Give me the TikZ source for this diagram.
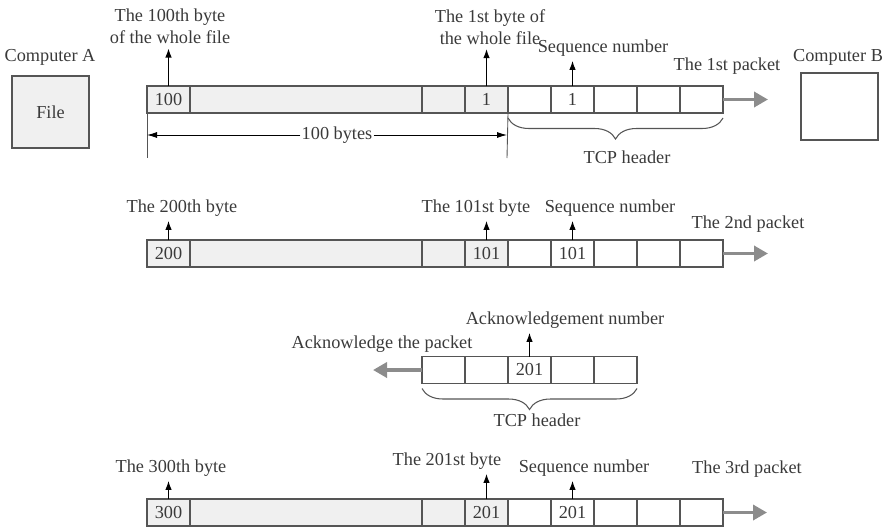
\documentclass[tikz,border=0pt]{standalone}
\usepackage{fontspec}
\setmainfont{Liberation Serif}
\usepackage{xcolor}
\usetikzlibrary{arrows.meta,positioning,decorations.pathreplacing}
\definecolor{inkgray}{HTML}{3A3A3A}
\definecolor{linegray}{HTML}{555555}
\definecolor{pipegray}{HTML}{8C8C8C}
\definecolor{cellfill}{HTML}{F0F0F0}

\begin{document}
\begin{tikzpicture}[
      x=0.2mm, y=-0.2mm,
      font=\fontsize{10.4}{12.5}\selectfont, text=inkgray,
      cell/.style={draw=linegray, line width=0.6pt, minimum width=8.6mm, minimum height=5.4mm, inner sep=0pt, outer sep=0pt},
      data/.style={cell, fill=cellfill},
      bigcell/.style={data, minimum width=46.4mm},
      pc/.style={draw=linegray, line width=0.6pt, minimum width=15.4mm},
      lbl/.style={inner sep=1pt, align=center},
      up/.style={-{Latex[length=1.8mm,width=1.3mm]}, line width=0.6pt, black, shorten >=0.5mm},
      pipe/.style={-{Triangle[length=2.8mm,width=3mm]}, line width=2pt, pipegray},
      dim/.style={-{Latex[length=2mm,width=1.2mm]}, line width=0.5pt, black},
      tick/.style={line width=0.5pt, linegray},
      hdr/.style={decorate, decoration={brace, mirror, amplitude=4.2mm, raise=1mm}, line width=0.6pt, linegray},
      node distance=0pt,
    ]
    \useasboundingbox (0,0) rectangle (889,526);

    % the two computers
    \node (pcA) [pc, fill=cellfill, minimum height=14.4mm] at (50.5,112) {File};
    \node (nameA) [lbl] at (50,57) {Computer A};
    \node (pcB) [pc, minimum height=13.4mm] at (839.5,106.5) {};
    \node (nameB) [lbl] at (838,57) {Computer B};

    % 1st packet
    \node (a100) [data, anchor=west] at (147,99.5) {100};
    \node (abig) [bigcell, right=of a100] {};
    \node (agap) [data, right=of abig] {};
    \node (a1) [data, right=of agap] {1};
    \node (ah1) [cell, right=of a1] {};
    \node (ah2) [cell, right=of ah1] {1};
    \node (ah3) [cell, right=of ah2] {};
    \node (ah4) [cell, right=of ah3] {};
    \node (ah5) [cell, right=of ah4] {};
    \node (l100) [lbl] at (170,26.5) {The 100th byte\\of the whole file};
    \node (l1) [lbl] at (490,27) {The 1st byte of\\the whole file};
    \node (lseq1) [lbl] at (603,48) {Sequence number};
    \node (lpk1) [lbl] at (727,66) {The 1st packet};
    \draw [up] (a100.north) -- (a100.north |- l100.south);
    \draw [up] (a1.north) -- (a1.north |- l1.south);
    \draw [up] (ah2.north) -- (ah2.north |- lseq1.south);
    \coordinate (go1) at (768,99.5);
    \draw [pipe] (ah5.east) -- (go1);
    % length of the data part
    \coordinate (dimL) at (147,158);
    \coordinate (dimR) at (507,158);
    \draw [tick] (a100.south west) -- (dimL);
    \draw [tick] (a1.south east) -- (dimR);
    \node (dimtxt) [inner sep=0.5pt] at (337,135) {100 bytes};
    \draw [dim] (dimtxt.west) -- (dimtxt.west -| dimL);
    \draw [dim] (dimtxt.east) -- (dimtxt.east -| dimR);
    \draw [hdr] (ah1.south west) -- (ah5.south east);
    \node (tcp1) [lbl] at (627,157) {TCP header};

    % 2nd packet
    \node (b200) [data, anchor=west] at (147,253.5) {200};
    \node (bbig) [bigcell, right=of b200] {};
    \node (bgap) [data, right=of bbig] {};
    \node (b101) [data, right=of bgap] {101};
    \node (bh1) [cell, right=of b101] {};
    \node (bh2) [cell, right=of bh1] {101};
    \node (bh3) [cell, right=of bh2] {};
    \node (bh4) [cell, right=of bh3] {};
    \node (bh5) [cell, right=of bh4] {};
    \node (l200) [lbl] at (182,208) {The 200th byte};
    \node (l101) [lbl] at (476,208) {The 101st byte};
    \node (lseq2) [lbl] at (610,208) {Sequence number};
    \node (lpk2) [lbl] at (748,224) {The 2nd packet};
    \draw [up] (b200.north) -- (b200.north |- l200.south);
    \draw [up] (b101.north) -- (b101.north |- l101.south);
    \draw [up] (bh2.north) -- (bh2.north |- lseq2.south);
    \coordinate (go2) at (768,253.5);
    \draw [pipe] (bh5.east) -- (go2);

    % acknowledgement
    \node (k1) [cell, anchor=west] at (422,370) {};
    \node (k2) [cell, right=of k1] {};
    \node (k3) [cell, right=of k2] {201};
    \node (k4) [cell, right=of k3] {};
    \node (k5) [cell, right=of k4] {};
    \node (lack) [lbl] at (565,320) {Acknowledgement number};
    \node (lback) [lbl] at (382,344) {Acknowledge the packet};
    \draw [up] (k3.north) -- (k3.north |- lack.south);
    \coordinate (back) at (373,370);
    \draw [pipe] (k1.west) -- (back);
    \draw [hdr] (k1.south west) -- (k5.south east);
    \node (tcp2) [lbl] at (537,420) {TCP header};

    % 3rd packet
    \node (c300) [data, anchor=west] at (147,512.5) {300};
    \node (cbig) [bigcell, right=of c300] {};
    \node (cgap) [data, right=of cbig] {};
    \node (c201) [data, right=of cgap] {201};
    \node (ch1) [cell, right=of c201] {};
    \node (ch2) [cell, right=of ch1] {201};
    \node (ch3) [cell, right=of ch2] {};
    \node (ch4) [cell, right=of ch3] {};
    \node (ch5) [cell, right=of ch4] {};
    \node (l300) [lbl] at (171,468) {The 300th byte};
    \node (l201) [lbl] at (447,461) {The 201st byte};
    \node (lseq3) [lbl] at (584,468) {Sequence number};
    \node (lpk3) [lbl] at (747,469) {The 3rd packet};
    \draw [up] (c300.north) -- (c300.north |- l300.south);
    \draw [up] (c201.north) -- (c201.north |- l201.south);
    \draw [up] (ch2.north) -- (ch2.north |- lseq3.south);
    \coordinate (go3) at (767,512.5);
    \draw [pipe] (ch5.east) -- (go3);
  \end{tikzpicture}
\end{document}
